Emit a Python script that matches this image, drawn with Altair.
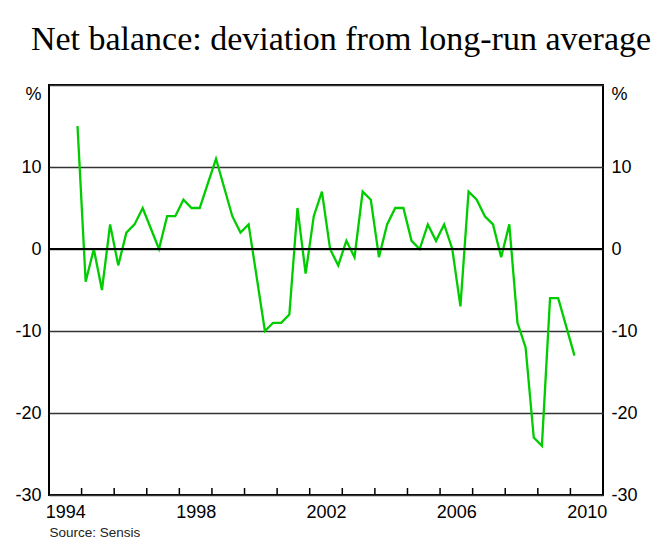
import altair as alt
import pandas as pd

title_text = "Net balance: deviation from long-run average"
source_text = "Source: Sensis"

# Quarterly series, first observation Q4 1994, last Q1 2010
start_year = 1994
start_quarter = 4
values = [15, -4, 0, -5, 3, -2, 2, 3, 5, 2.5, 0, 4, 4, 6, 5, 5, 8, 11, 7.5, 4,
          2, 3, -3.5, -10, -9, -9, -8, 5, -3, 4, 7, 0, -2, 1, -1, 7, 6, -1, 3, 5,
          5, 1, 0, 3, 1, 3, 0, -7, 7, 6, 4, 3, -1, 3, -9, -12, -23, -24, -6, -6,
          -9.5, -13]

y_ticks = [-30, -20, -10, 0, 10, 20]
x_label_years = [1994, 1998, 2002, 2006, 2010]
x_tick_years = list(range(1995, 2011))
x_domain = [1994, 2011]
y_domain = [-30, 20]

times = [start_year + (start_quarter - 1 + i) / 4 + 0.125 for i in range(len(values))]
df = pd.DataFrame({"t": times, "v": values})
tick_df = pd.DataFrame({"t": x_tick_years})

xscale = alt.Scale(domain=x_domain, nice=False, zero=False)
yscale = alt.Scale(domain=y_domain, nice=False, zero=False)

label_font = "Liberation Sans"
lbl_size = 18
pct_expr = "datum.value == 20 ? '%' : '' + datum.value"
baseline_cond = {"condition": {"test": "datum.value == 20", "value": "top"}, "value": "middle"}

x_axis = alt.Axis(values=[y + 0.5 for y in x_label_years],
                  labelExpr="'' + floor(datum.value)",
                  ticks=False, domain=False, grid=False,
                  labelFont=label_font, labelFontSize=lbl_size,
                  labelColor="black", labelPadding=8,
                  title=source_text, titleAnchor="start", titleAlign="left",
                  titleFont=label_font, titleFontSize=13.5,
                  titleFontWeight="normal", titleColor="#222",
                  titlePadding=4)

line = alt.Chart(df).mark_line(color="#00CC00", strokeWidth=2.3).encode(
    x=alt.X("t:Q", scale=xscale, axis=x_axis),
    y=alt.Y("v:Q", scale=yscale,
            axis=alt.Axis(orient="left", values=y_ticks, labelExpr=pct_expr,
                          labelBaseline=baseline_cond,
                          ticks=False, domain=False, grid=True,
                          gridColor="#333", gridWidth=1.5, gridOpacity=1,
                          labelFont=label_font, labelFontSize=lbl_size,
                          labelColor="black", labelPadding=8, title=None)),
)

zero = alt.Chart(pd.DataFrame({"z": [0]})).mark_rule(color="black", strokeWidth=2).encode(
    y=alt.Y("z:Q", scale=yscale,
            axis=alt.Axis(orient="right", values=y_ticks, labelExpr=pct_expr,
                          labelBaseline=baseline_cond,
                          ticks=False, domain=False, grid=False,
                          labelFont=label_font, labelFontSize=lbl_size,
                          labelColor="black", labelPadding=8, title=None)),
)

# inward-pointing year ticks on the bottom frame (x from the scale, fixed tick length)
ticks = alt.Chart(tick_df).mark_rule(color="black", strokeWidth=1.5).encode(
    x=alt.X("t:Q", scale=xscale, axis=x_axis),
    y=alt.value(410),
    y2=alt.value(403),
)

chart = alt.layer(line, zero, ticks).resolve_axis(y="independent").properties(
    width=554,
    height=410,
    background="white",
    autosize=alt.AutoSizeParams(type="none"),
    padding={"left": 41, "top": 77, "right": 48, "bottom": 49},
    title=alt.TitleParams(title_text, font="Liberation Serif", fontSize=34,
                          fontWeight="normal", color="black", anchor="middle",
                          dx=15, offset=28),
).configure_view(stroke="black", strokeWidth=2)

chart.save("out.html", embed_options={"renderer": "svg", "actions": False})
